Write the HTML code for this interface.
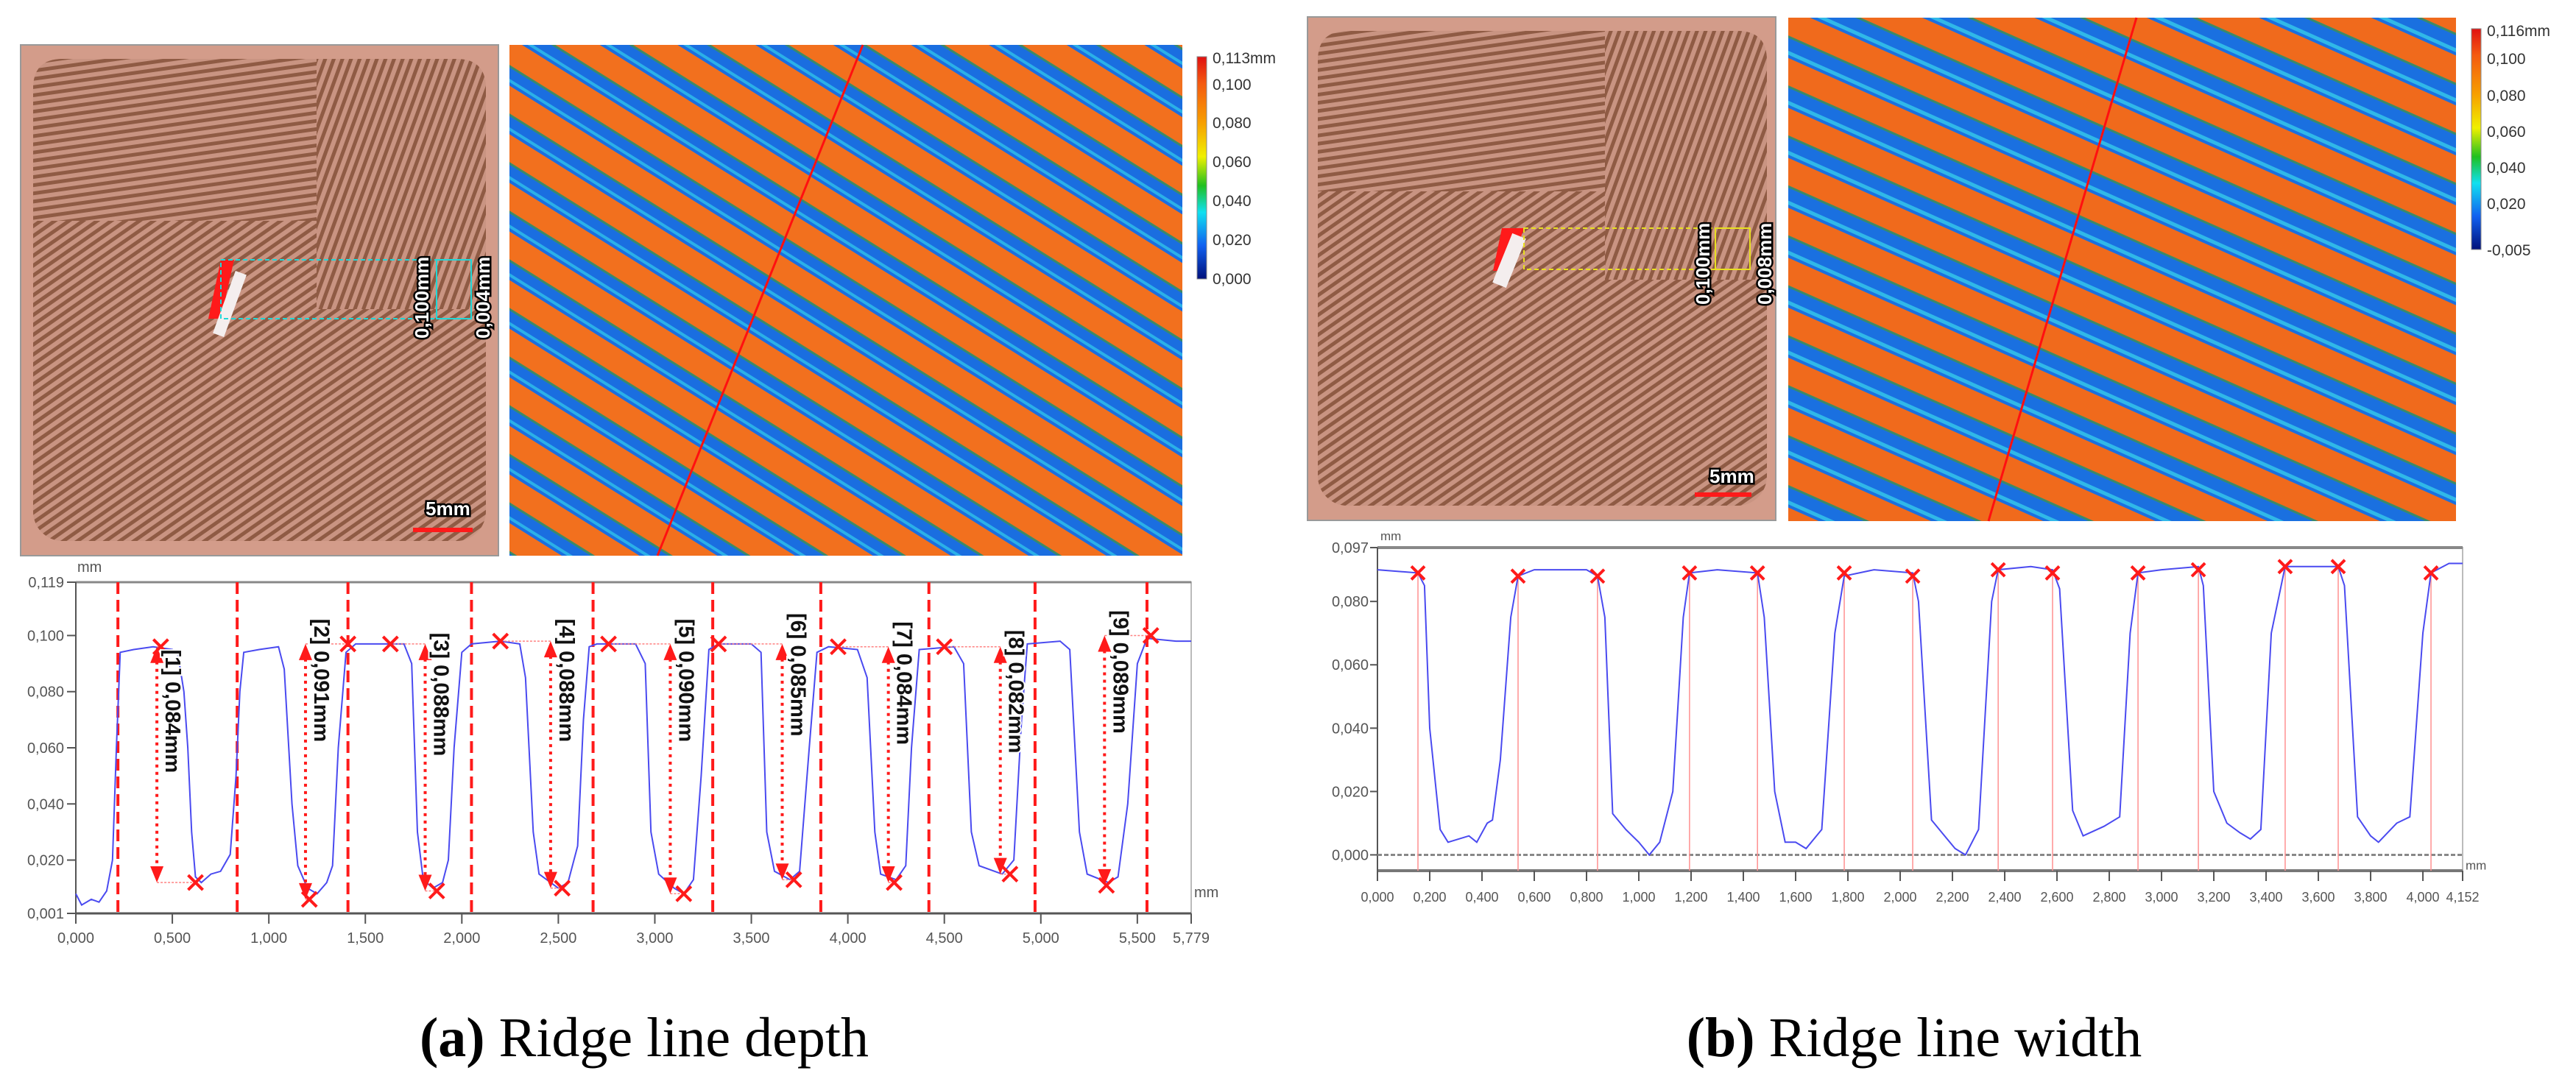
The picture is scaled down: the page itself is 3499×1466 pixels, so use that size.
<!DOCTYPE html>
<html><head><meta charset="utf-8"><style>
html,body{margin:0;padding:0;background:#fff;}
svg{display:block;}
.tk{font-family:"Liberation Sans",sans-serif;font-size:20px;fill:#555;}
.lbl{font-family:"Liberation Sans",sans-serif;font-size:29px;font-weight:bold;fill:#111;stroke:#fff;stroke-width:4px;paint-order:stroke;}
.wl{font-family:"Liberation Sans",sans-serif;font-size:26px;font-weight:bold;fill:#fff;stroke:#000;stroke-width:5px;paint-order:stroke;}
.cb{font-family:"Liberation Sans",sans-serif;font-size:21px;fill:#333;}
.cap{font-family:"Liberation Serif",serif;font-size:76px;fill:#000;}
</style></head><body>
<svg id="fig" width="3499" height="1466" viewBox="0 0 3499 1466" xmlns="http://www.w3.org/2000/svg">
<defs>
<pattern id="fp" width="11" height="11" patternUnits="userSpaceOnUse" patternTransform="rotate(-35)">
<rect width="11" height="11" fill="#c99482"/><rect width="11" height="5" fill="#8f5b44"/></pattern>
<pattern id="fp2" width="11" height="11" patternUnits="userSpaceOnUse" patternTransform="rotate(-8)">
<rect width="11" height="11" fill="#c99482"/><rect width="11" height="5" fill="#8f5b44"/></pattern>
<pattern id="fp3" width="11" height="11" patternUnits="userSpaceOnUse" patternTransform="rotate(-70)">
<rect width="11" height="11" fill="#c99482"/><rect width="11" height="5" fill="#8f5b44"/></pattern>
<pattern id="hm" width="56" height="56" patternUnits="userSpaceOnUse" patternTransform="rotate(32)">
<rect width="56" height="56" fill="#1a6ee0"/><rect y="4" width="56" height="4" fill="#2bb0e8"/><rect y="12" width="56" height="34" fill="#f2701e"/><rect y="44" width="56" height="3" fill="#3a8a6a"/></pattern>
<pattern id="hm2" width="62" height="62" patternUnits="userSpaceOnUse" patternTransform="rotate(24)">
<rect width="62" height="62" fill="#1a70e0"/><rect y="5" width="62" height="5" fill="#30b8e8"/><rect y="14" width="62" height="36" fill="#f06a1c"/><rect y="48" width="62" height="3" fill="#3a8a6a"/></pattern>
<linearGradient id="cbg" x1="0" y1="0" x2="0" y2="1">
<stop offset="0" stop-color="#e01010"/><stop offset="0.12" stop-color="#f45a10"/><stop offset="0.3" stop-color="#f7a000"/><stop offset="0.45" stop-color="#f0f000"/><stop offset="0.58" stop-color="#20c020"/><stop offset="0.7" stop-color="#10e0f0"/><stop offset="0.85" stop-color="#1060f0"/><stop offset="1" stop-color="#00107a"/></linearGradient>
</defs>

<!-- panel a images -->
<g>
<rect x="28" y="61" width="649" height="694" fill="#d39c8a" stroke="#999" stroke-width="2"/>
<rect x="45" y="80" width="615" height="655" rx="40" fill="url(#fp)"/>
<path d="M85 80 H430 V300 H45 V120 Q45 80 85 80Z" fill="url(#fp2)"/>
<path d="M430 80 H620 Q660 80 660 120 V420 H430Z" fill="url(#fp3)"/>
<polygon points="300,353 318,353 300,433 283,433" fill="#ff1a1a"/>
<rect x="304" y="368" width="16" height="90" fill="#f4eeee" transform="rotate(20 312 413)"/>
<rect x="300" y="353" width="340" height="80" fill="none" stroke="#20d8d8" stroke-width="2" stroke-dasharray="6 4"/>
<rect x="593" y="353" width="47" height="80" fill="none" stroke="#20d8d8" stroke-width="2"/>
<text class="wl" transform="translate(582 460) rotate(-90)">0,100mm</text>
<text class="wl" transform="translate(665 460) rotate(-90)">0,004mm</text>
<text class="wl" x="578" y="700">5mm</text>
<rect x="561" y="717" width="81" height="6" fill="#ff1a1a"/>
</g>
<g>
<rect x="692" y="61" width="914" height="694" fill="url(#hm)"/>
<line x1="1172" y1="61" x2="893" y2="755" stroke="#ff1010" stroke-width="3"/>
</g>
<g>
<rect x="1626" y="77" width="13" height="302" fill="url(#cbg)" stroke="#888"/>
<text class="cb" x="1647" y="86">0,113mm</text><text class="cb" x="1647" y="122">0,100</text>
<text class="cb" x="1647" y="174">0,080</text><text class="cb" x="1647" y="227">0,060</text>
<text class="cb" x="1647" y="280">0,040</text><text class="cb" x="1647" y="333">0,020</text>
<text class="cb" x="1647" y="386">0,000</text>
</g>

<!-- panel b images -->
<g>
<rect x="1776" y="23" width="636" height="684" fill="#d39c8a" stroke="#999" stroke-width="2"/>
<rect x="1790" y="42" width="610" height="645" rx="40" fill="url(#fp)"/>
<path d="M1830 42 H2180 V260 H1790 V82 Q1790 42 1830 42Z" fill="url(#fp2)"/>
<path d="M2180 42 H2360 Q2400 42 2400 82 V380 H2180Z" fill="url(#fp3)"/>
<polygon points="2040,310 2070,310 2050,368 2028,368" fill="#ff1a1a"/>
<rect x="2040" y="318" width="20" height="72" fill="#f4eeee" transform="rotate(22 2050 354)"/>
<rect x="2070" y="310" width="307" height="56" fill="none" stroke="#e8e020" stroke-width="2" stroke-dasharray="6 4"/>
<rect x="2330" y="310" width="47" height="56" fill="none" stroke="#e8e020" stroke-width="2"/>
<text class="wl" transform="translate(2322 414) rotate(-90)">0,100mm</text>
<text class="wl" transform="translate(2406 414) rotate(-90)">0,008mm</text>
<text class="wl" x="2322" y="656">5mm</text>
<rect x="2302" y="669" width="77" height="6" fill="#ff1a1a"/>
</g>
<g>
<rect x="2429" y="24" width="907" height="684" fill="url(#hm2)"/>
<line x1="2902" y1="24" x2="2701" y2="708" stroke="#ff1010" stroke-width="3"/>
</g>
<g>
<rect x="3357" y="39" width="13" height="300" fill="url(#cbg)" stroke="#888"/>
<text class="cb" x="3378" y="49">0,116mm</text><text class="cb" x="3378" y="87">0,100</text>
<text class="cb" x="3378" y="137">0,080</text><text class="cb" x="3378" y="186">0,060</text>
<text class="cb" x="3378" y="235">0,040</text><text class="cb" x="3378" y="284">0,020</text>
<text class="cb" x="3378" y="347">-0,005</text>
</g>

<g id="chartA"></g>
<g id="chartB"></g>

<text class="cap" x="875" y="1435" text-anchor="middle"><tspan font-weight="bold">(a)</tspan> Ridge line depth</text>
<text class="cap" x="2600" y="1435" text-anchor="middle"><tspan font-weight="bold">(b)</tspan> Ridge line width</text>
</svg>
<script>
// ---------- Chart A data ----------
const aYTicks = [0.001, 0.020, 0.040, 0.060, 0.080, 0.100, 0.119];
const aYTickLabels = ["0,001","0,020","0,040","0,060","0,080","0,100","0,119"];
const aXTicks = [0,0.5,1,1.5,2,2.5,3,3.5,4,4.5,5,5.5,5.779];
const aXTickLabels = ["0,000","0,500","1,000","1,500","2,000","2,500","3,000","3,500","4,000","4,500","5,000","5,500","5,779"];
const aProfileX = [0,0.03,0.08,0.12,0.16,0.19,0.21,0.23,0.3,0.4,0.5,0.53,0.56,0.58,0.6,0.62,0.65,0.7,0.75,0.8,0.83,0.85,0.87,0.95,1.05,1.08,1.12,1.15,1.2,1.25,1.3,1.33,1.36,1.4,1.45,1.7,1.74,1.77,1.8,1.85,1.9,1.93,1.96,2.0,2.05,2.2,2.3,2.33,2.37,2.4,2.5,2.55,2.6,2.63,2.66,2.7,2.9,2.95,2.98,3.02,3.1,3.15,3.2,3.24,3.28,3.33,3.5,3.55,3.58,3.62,3.7,3.75,3.8,3.84,3.9,4.05,4.1,4.14,4.17,4.25,4.3,4.33,4.37,4.55,4.6,4.64,4.68,4.8,4.86,4.9,4.93,5.1,5.15,5.2,5.24,5.35,5.4,5.45,5.5,5.55,5.7,5.779];
const aProfileY = [0.008,0.004,0.006,0.005,0.009,0.020,0.060,0.094,0.095,0.096,0.095,0.093,0.080,0.060,0.030,0.014,0.012,0.015,0.016,0.022,0.050,0.080,0.094,0.095,0.096,0.088,0.040,0.018,0.010,0.008,0.012,0.018,0.060,0.094,0.097,0.097,0.090,0.030,0.013,0.010,0.012,0.020,0.060,0.094,0.097,0.098,0.097,0.085,0.030,0.015,0.010,0.012,0.025,0.070,0.096,0.097,0.097,0.090,0.030,0.015,0.010,0.008,0.013,0.050,0.095,0.097,0.097,0.094,0.030,0.016,0.013,0.016,0.060,0.094,0.096,0.095,0.085,0.030,0.015,0.013,0.018,0.060,0.095,0.096,0.090,0.030,0.018,0.015,0.020,0.070,0.097,0.098,0.095,0.030,0.015,0.012,0.014,0.040,0.090,0.099,0.098,0.098];
const aCutX = [0.218,0.836,1.41,2.05,2.68,3.30,3.86,4.42,4.97,5.55];
const aArrowX = [0.42,1.19,1.81,2.46,3.08,3.66,4.21,4.79,5.33];
const aArrowTop = [0.096,0.097,0.097,0.098,0.097,0.097,0.096,0.096,0.100];
const aArrowBot = [0.012,0.006,0.009,0.010,0.008,0.013,0.012,0.015,0.011];
const aTopMarkX = [0.44,1.41,1.63,2.2,2.76,3.33,3.95,4.5,5.57];
const aBotMarkX = [0.62,1.21,1.87,2.52,3.15,3.72,4.24,4.84,5.34];
const aLabels = ["[1] 0,084mm","[2] 0,091mm","[3] 0,088mm","[4] 0,088mm","[5] 0,090mm","[6] 0,085mm","[7] 0,084mm","[8] 0,082mm","[9] 0,089mm"];
const aLabelTop = [0.095,0.106,0.101,0.106,0.106,0.108,0.105,0.102,0.109];

// ---------- Chart B data ----------
const bYTicks = [0,0.020,0.040,0.060,0.080,0.097];
const bYTickLabels = ["0,000","0,020","0,040","0,060","0,080","0,097"];
const bXTicks = [0,0.2,0.4,0.6,0.8,1.0,1.2,1.4,1.6,1.8,2.0,2.2,2.4,2.6,2.8,3.0,3.2,3.4,3.6,3.8,4.0,4.152];
const bXTickLabels = ["0,000","0,200","0,400","0,600","0,800","1,000","1,200","1,400","1,600","1,800","2,000","2,200","2,400","2,600","2,800","3,000","3,200","3,400","3,600","3,800","4,000","4,152"];
const bProfileX = [0,0.155,0.18,0.2,0.24,0.27,0.35,0.38,0.42,0.44,0.47,0.51,0.538,0.6,0.7,0.8,0.842,0.87,0.9,0.95,1.0,1.04,1.08,1.13,1.17,1.194,1.3,1.454,1.48,1.52,1.56,1.6,1.64,1.7,1.75,1.786,1.9,2.048,2.07,2.12,2.17,2.21,2.25,2.3,2.35,2.375,2.5,2.583,2.61,2.66,2.7,2.78,2.84,2.88,2.91,3.0,3.141,3.16,3.2,3.25,3.3,3.34,3.38,3.42,3.473,3.6,3.676,3.7,3.75,3.8,3.83,3.9,3.95,4.0,4.031,4.1,4.152];
const bProfileY = [0.090,0.089,0.085,0.040,0.008,0.004,0.006,0.004,0.010,0.011,0.030,0.075,0.088,0.090,0.090,0.090,0.088,0.075,0.013,0.008,0.004,0.000,0.004,0.020,0.075,0.089,0.090,0.089,0.075,0.020,0.004,0.004,0.002,0.008,0.070,0.088,0.090,0.089,0.080,0.011,0.006,0.002,0.000,0.008,0.080,0.090,0.091,0.090,0.084,0.014,0.006,0.009,0.012,0.070,0.089,0.090,0.091,0.085,0.020,0.010,0.007,0.005,0.008,0.070,0.091,0.091,0.091,0.085,0.012,0.006,0.004,0.010,0.012,0.070,0.089,0.092,0.092];
const bMarkX = [0.155,0.538,0.842,1.194,1.454,1.786,2.048,2.375,2.583,2.910,3.141,3.473,3.676,4.031];
const bMarkY = [0.089,0.088,0.088,0.089,0.089,0.089,0.088,0.090,0.089,0.089,0.090,0.091,0.091,0.089];

const NS = "http://www.w3.org/2000/svg";
function mk(parent, tag, attrs, txt){const e=document.createElementNS(NS,tag);for(const k in attrs)e.setAttribute(k,attrs[k]);if(txt!==undefined)e.textContent=txt;parent.appendChild(e);return e;}

function cross(g,x,y,s){
  const p=mk(g,'path',{d:`M${x-s} ${y-s}L${x+s} ${y+s}M${x+s} ${y-s}L${x-s} ${y+s}`,stroke:'#ff1a1a','stroke-width':4,fill:'none'});
  
  
}

// ---------- Draw Chart A ----------
(function(){
  const g=document.getElementById('chartA');
  const L=103,R=1618,T=791,B=1241, x0=0,x1=5.779,y0=0.001,y1=0.119;
  const X=v=>L+(v-x0)/(x1-x0)*(R-L), Y=v=>B-(v-y0)/(y1-y0)*(B-T);
  mk(g,'rect',{x:L,y:T,width:R-L,height:B-T,fill:'#fff',stroke:'#bbb','stroke-width':2});
  mk(g,'line',{x1:L,y1:T,x2:R,y2:T,stroke:'#888','stroke-width':3});
  mk(g,'line',{x1:L,y1:B,x2:R,y2:B,stroke:'#555','stroke-width':3});
  mk(g,'line',{x1:L,y1:T,x2:L,y2:B,stroke:'#555','stroke-width':2});
  aYTicks.forEach((v,i)=>{
    mk(g,'line',{x1:L-12,y1:Y(v),x2:L,y2:Y(v),stroke:'#555','stroke-width':2});
    const t=mk(g,'text',{class:'tk',x:L-16,y:Y(v)+7,'text-anchor':'end'},aYTickLabels[i]);
    
    
  });
  aXTicks.forEach((v,i)=>{
    mk(g,'line',{x1:X(v),y1:B,x2:X(v),y2:B+14,stroke:'#555','stroke-width':2});
    const t=mk(g,'text',{class:'tk',x:X(v),y:B+40,'text-anchor':'middle'},aXTickLabels[i]);
    
    
  });
  mk(g,'text',{class:'tk',x:L+2,y:T-14},'mm');
  mk(g,'text',{class:'tk',x:R+4,y:B-22},'mm');
  aCutX.forEach(v=>{
    const l=mk(g,'line',{x1:X(v),y1:T,x2:X(v),y2:B,stroke:'#ff1a1a','stroke-width':4,'stroke-dasharray':'16 8'});
    
    
  });
  const pts=aProfileX.map((v,i)=>X(v).toFixed(1)+','+Y(aProfileY[i]).toFixed(1)).join(' ');
  const pl=mk(g,'polyline',{points:pts,fill:'none',stroke:'#4a4af0','stroke-width':2});
  
  
  aArrowX.forEach((v,i)=>{
    const ax=X(v), yt=Y(aArrowTop[i]), yb=Y(aArrowBot[i]);
    mk(g,'line',{x1:ax,y1:yt,x2:X(aTopMarkX[i]),y2:yt,stroke:'#ff8080','stroke-width':1.5,'stroke-dasharray':'3 2'});
    mk(g,'line',{x1:ax,y1:yb,x2:X(aBotMarkX[i]),y2:yb,stroke:'#ff8080','stroke-width':1.5,'stroke-dasharray':'3 2'});
    const l=mk(g,'line',{x1:ax,y1:yt+10,x2:ax,y2:yb-10,stroke:'#ff1a1a','stroke-width':4,'stroke-dasharray':'4 6'});
    
    
    mk(g,'polygon',{points:`${ax},${yt} ${ax-9},${yt+22} ${ax+9},${yt+22}`,fill:'#ff1a1a'});
    mk(g,'polygon',{points:`${ax},${yb} ${ax-9},${yb-22} ${ax+9},${yb-22}`,fill:'#ff1a1a'});
    cross(g,X(aTopMarkX[i]),Y(aArrowTop[i]),10);
    cross(g,X(aBotMarkX[i]),Y(aArrowBot[i]),10);
    const t=mk(g,'text',{class:'lbl',transform:`translate(${ax+12} ${Y(aLabelTop[i])}) rotate(90)`},aLabels[i]);
    
    
  });
})();

// ---------- Draw Chart B ----------
(function(){
  const g=document.getElementById('chartB');
  const L=1871,R=3345,T=744,B=1183, x0=0,x1=4.152,y0=-0.005,y1=0.097;
  const X=v=>L+(v-x0)/(x1-x0)*(R-L), Y=v=>B-(v-y0)/(y1-y0)*(B-T);
  mk(g,'rect',{x:L,y:T,width:R-L,height:B-T,fill:'#fff',stroke:'#bbb','stroke-width':2});
  mk(g,'line',{x1:L,y1:T,x2:R,y2:T,stroke:'#888','stroke-width':4});
  mk(g,'line',{x1:L,y1:B,x2:R,y2:B,stroke:'#777','stroke-width':4});
  mk(g,'line',{x1:L,y1:T,x2:L,y2:B+14,stroke:'#555','stroke-width':2});
  bYTicks.forEach((v,i)=>{
    mk(g,'line',{x1:L-10,y1:Y(v),x2:L,y2:Y(v),stroke:'#555','stroke-width':2});
    const t=mk(g,'text',{class:'tk',x:L-12,y:Y(v)+7,'text-anchor':'end'},bYTickLabels[i]);
    
    
  });
  bXTicks.forEach((v,i)=>{
    mk(g,'line',{x1:X(v),y1:B,x2:X(v),y2:B+14,stroke:'#555','stroke-width':2});
    const t=mk(g,'text',{class:'tk',x:X(v),y:B+42,'text-anchor':'middle',style:'font-size:18px'},bXTickLabels[i]);
    
    
  });
  mk(g,'text',{class:'tk',x:L+4,y:T-10,style:'font-size:17px'},'mm');
  mk(g,'text',{class:'tk',x:R+4,y:Y(0)+20,style:'font-size:17px'},'mm');
  const z=mk(g,'line',{x1:L,y1:Y(0),x2:R,y2:Y(0),stroke:'#888','stroke-width':3,'stroke-dasharray':'6 3'});
  
  
  bMarkX.forEach((v,i)=>{
    mk(g,'line',{x1:X(v),y1:Y(bMarkY[i]),x2:X(v),y2:B,stroke:'#ff9090','stroke-width':1.5});
  });
  const pts=bProfileX.map((v,i)=>X(v).toFixed(1)+','+Y(bProfileY[i]).toFixed(1)).join(' ');
  const pl=mk(g,'polyline',{points:pts,fill:'none',stroke:'#4a4af0','stroke-width':2});
  
  
  bMarkX.forEach((v,i)=>cross(g,X(v),Y(bMarkY[i]),9));
})();
</script>
</body></html>
